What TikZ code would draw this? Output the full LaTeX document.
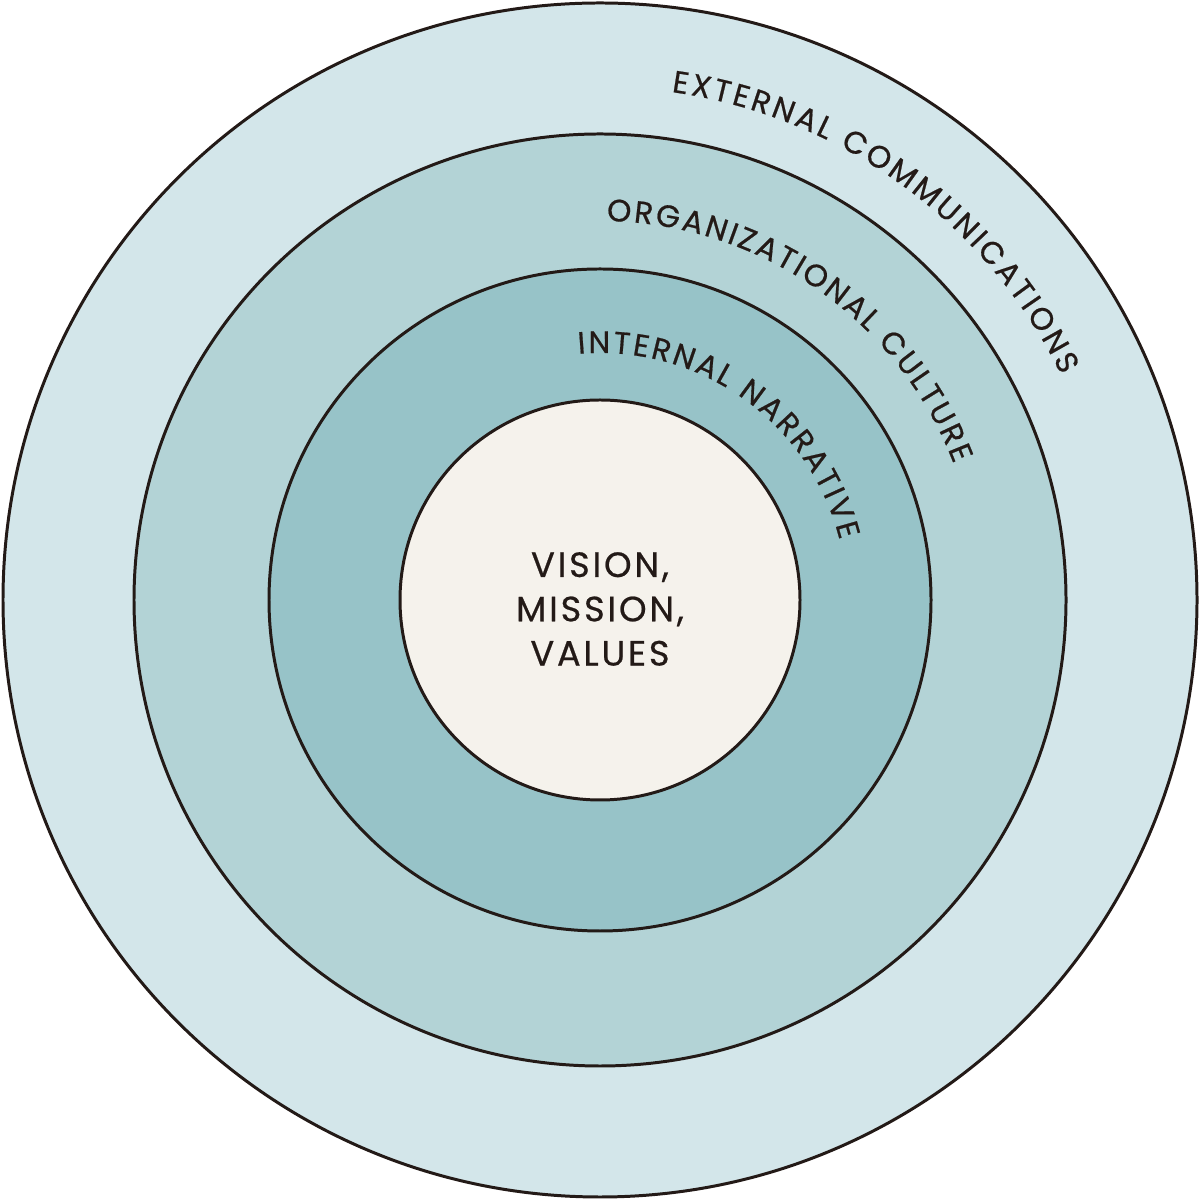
\documentclass[tikz,border=0pt]{standalone}
\usepackage{fontspec}
\setmainfont{Poppins}[FakeBold=0.6]
\usetikzlibrary{decorations.text, positioning}
\definecolor{ringA}{HTML}{D3E6EA}
\definecolor{ringB}{HTML}{B3D3D6}
\definecolor{ringC}{HTML}{97C3C8}
\definecolor{coreFill}{HTML}{F5F2EC}
\definecolor{ink}{HTML}{231A17}
\newcommand{\ringfont}{\color{ink}\fontsize{8.8}{10}\selectfont}
\tikzset{
  ring/.style={draw=ink, line width=0.85pt},
  ringlabel/.style={decorate, decoration={text along path, text align={fit to path}, text={|\ringfont|#1}}}
}
\begin{document}
\begin{tikzpicture}

        \useasboundingbox (0,0) rectangle (12,12.01);
        \coordinate (O) at (6,6.01); % centre

        % the four discs
        \draw[ring, fill=ringA] (O) circle (5.97); % outer
        \draw[ring, fill=ringB] (O) circle (4.66);
        \draw[ring, fill=ringC] (O) circle (3.31);
        \draw[ring, fill=coreFill] (O) circle (2.00); % core

        % labels along the rings
        \path[ringlabel={EXTERNAL COMMUNICATIONS}] (O) ++(82:5.13) arc[start angle=82, end angle=26, radius=5.13];
        \path[ringlabel={ORGANIZATIONAL CULTURE}] (O) ++(89:3.79) arc[start angle=89, end angle=21, radius=3.79];
        \path[ringlabel={INTERNAL NARRATIVE}] (O) ++(95:2.47) arc[start angle=95, end angle=14, radius=2.47];

        % centre text
        \node[align=center, text=ink, font={\fontsize{10}{12.6}\selectfont\addfontfeatures{LetterSpace=8}}] (core) at (6,5.92) {VISION,\\MISSION,\\VALUES};

\end{tikzpicture}
\end{document}
